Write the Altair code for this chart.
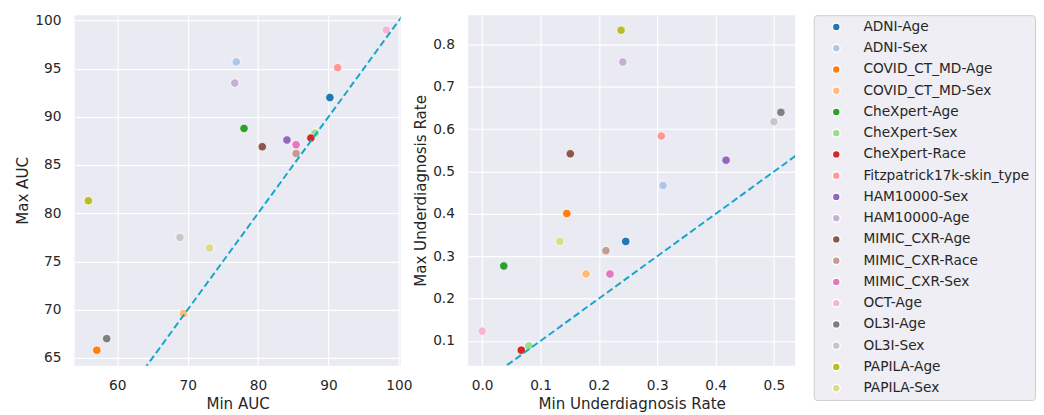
import altair as alt
import pandas as pd

groups = ["ADNI-Age", "ADNI-Sex", "COVID_CT_MD-Age", "COVID_CT_MD-Sex",
          "CheXpert-Age", "CheXpert-Sex", "CheXpert-Race", "Fitzpatrick17k-skin_type",
          "HAM10000-Sex", "HAM10000-Age", "MIMIC_CXR-Age", "MIMIC_CXR-Race",
          "MIMIC_CXR-Sex", "OCT-Age", "OL3I-Age", "OL3I-Sex", "PAPILA-Age", "PAPILA-Sex"]
colors = ["#1f77b4", "#aec7e8", "#ff7f0e", "#ffbb78", "#2ca02c", "#98df8a",
          "#d62728", "#ff9896", "#9467bd", "#c5b0d5", "#8c564b", "#c49c94",
          "#e377c2", "#f7b6d2", "#7f7f7f", "#c7c7c7", "#bcbd22", "#dbdb8d"]
auc_min = [90.2, 76.9, 57.1, 69.4, 78.0, 88.1, 87.5, 91.3, 84.1, 76.7,
           80.6, 85.4, 85.4, 98.2, 58.5, 68.9, 55.9, 73.1]
auc_max = [92.0, 95.7, 65.8, 69.6, 88.8, 88.3, 87.8, 95.1, 87.6, 93.5,
           86.9, 86.2, 87.1, 99.0, 67.0, 77.5, 81.3, 76.4]
ud_min = [0.246, 0.310, 0.145, 0.178, 0.037, 0.080, 0.067, 0.307, 0.418, 0.241,
          0.151, 0.212, 0.219, 0.000, 0.512, 0.500, 0.238, 0.133]
ud_max = [0.335, 0.467, 0.401, 0.258, 0.277, 0.088, 0.078, 0.584, 0.527, 0.759,
          0.542, 0.313, 0.258, 0.123, 0.640, 0.618, 0.834, 0.335]

df = pd.DataFrame({"group": groups, "auc_min": auc_min, "auc_max": auc_max,
                   "ud_min": ud_min, "ud_max": ud_max})
line_auc = pd.DataFrame({"auc_min": [50, 102], "auc_max": [50, 102]})
line_ud = pd.DataFrame({"ud_min": [-0.1, 0.7], "ud_max": [-0.1, 0.7]})

FONT = "DejaVu Sans"
LINE_COLOR = "#15a6cb"

color = alt.Color(
    "group:N", title=None,
    scale=alt.Scale(domain=groups, range=colors),
    legend=alt.Legend(orient="none", legendX=755, legendY=0,
                      fillColor="#eeeef4", strokeColor="#cccccc", cornerRadius=3,
                      padding=5, rowPadding=7.7, symbolType="circle", symbolSize=64,
                      symbolOffset=11, labelOffset=20.7, labelLimit=400,
                      labelFont=FONT, labelFontSize=14, labelColor="#262626"),
)

ax_auc = alt.Scale(domain=[53.94, 100.24], nice=False, zero=False)
ay_auc = alt.Scale(domain=[64.19, 100.54], nice=False, zero=False)
ax_ud = alt.Scale(domain=[-0.0241, 0.5364], nice=False, zero=False)
ay_ud = alt.Scale(domain=[0.0413, 0.8695], nice=False, zero=False)

pts1 = alt.Chart(df).mark_circle(size=75, opacity=1, stroke="white", strokeWidth=0.8).encode(
    x=alt.X("auc_min:Q", scale=ax_auc, title="Min AUC",
            axis=alt.Axis(values=[60, 70, 80, 90, 100])),
    y=alt.Y("auc_max:Q", scale=ay_auc, title="Max AUC",
            axis=alt.Axis(values=[65, 70, 75, 80, 85, 90, 95, 100])),
    color=color,
)
ln1 = alt.Chart(line_auc).mark_line(clip=True, color=LINE_COLOR, strokeWidth=2,
                                    strokeDash=[7, 3.5]).encode(
    x=alt.X("auc_min:Q", scale=ax_auc, title="Min AUC"),
    y=alt.Y("auc_max:Q", scale=ay_auc, title="Max AUC"),
)
left = alt.layer(pts1, ln1).properties(width=333, height=358)

pts2 = alt.Chart(df).mark_circle(size=75, opacity=1, stroke="white", strokeWidth=0.8).encode(
    x=alt.X("ud_min:Q", scale=ax_ud, title="Min Underdiagnosis Rate",
            axis=alt.Axis(values=[0, 0.1, 0.2, 0.3, 0.4, 0.5], format=".1f")),
    y=alt.Y("ud_max:Q", scale=ay_ud, title="Max Underdiagnosis Rate",
            axis=alt.Axis(values=[0.1, 0.2, 0.3, 0.4, 0.5, 0.6, 0.7, 0.8], format=".1f")),
    color=color,
)
ln2 = alt.Chart(line_ud).mark_line(clip=True, color=LINE_COLOR, strokeWidth=2,
                                   strokeDash=[7, 3.5]).encode(
    x=alt.X("ud_min:Q", scale=ax_ud, title="Min Underdiagnosis Rate"),
    y=alt.Y("ud_max:Q", scale=ay_ud, title="Max Underdiagnosis Rate"),
)
right = alt.layer(pts2, ln2).properties(width=334, height=358)

chart = alt.hconcat(left, right, spacing=69, bounds="flush").properties(
    padding={"left": 8, "top": 1, "right": 0, "bottom": 0}
).configure_view(
    fill="#eaeaf2", strokeWidth=0
).configure_axis(
    domain=False, ticks=False, tickSize=0, grid=True, gridColor="white", gridWidth=1.2,
    labelFont=FONT, labelFontSize=14, labelColor="#262626",
    titleFont=FONT, titleFontSize=15.4, titleFontWeight="normal", titleColor="#262626",
).configure_axisX(
    labelPadding=13.5, titlePadding=4
).configure_axisY(
    labelPadding=14, titlePadding=4
)

chart.save("out.html", embed_options={"renderer": "svg", "actions": False})
